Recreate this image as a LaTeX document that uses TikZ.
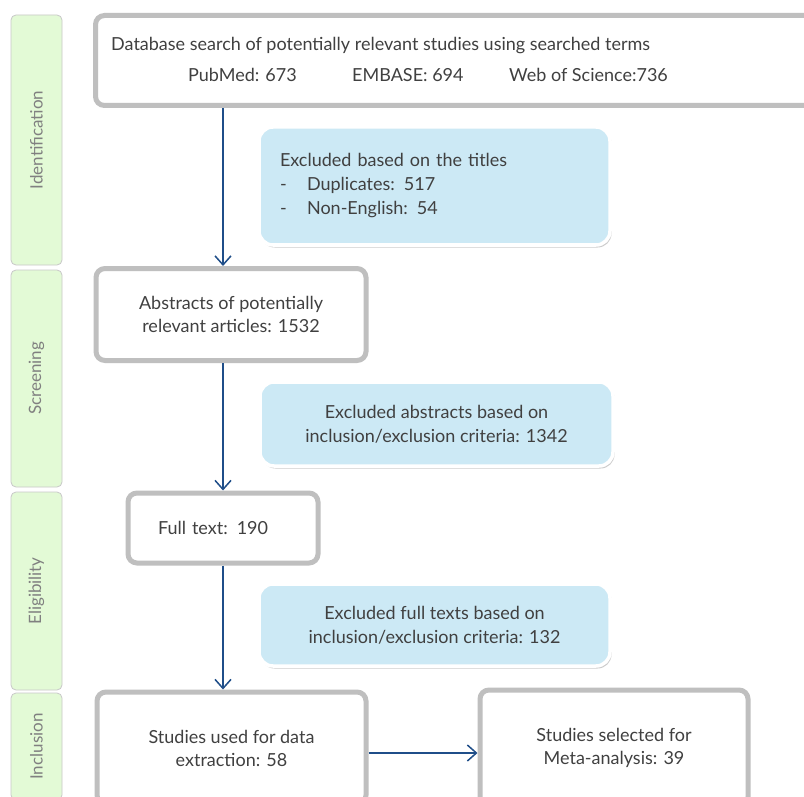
\documentclass[tikz,border=0pt]{standalone}
\usepackage{fontspec}
\setmainfont{Lato}
\usepackage{tikz}
\usetikzlibrary{arrows.meta}
\usetikzlibrary{shadows}
\definecolor{boxgray}{HTML}{BFBFBF}
\definecolor{exclblue}{HTML}{CCE9F5}
\definecolor{stagegreen}{HTML}{E3FAD6}
\definecolor{stageline}{HTML}{C8C8C8}
\definecolor{flowblue}{HTML}{1F4E89}
\definecolor{txtgray}{HTML}{404040}
\tikzset{
  mainbox/.style={draw=boxgray,line width=5pt,fill=white,rounded corners=9pt,inner sep=0pt,
    align=center,text=txtgray,font=\fontsize{18}{23}\selectfont},
  exclbox/.style={draw=white,line width=3.5pt,fill=exclblue,rounded corners=14pt,inner sep=0pt,
    align=center,text=txtgray,font=\fontsize{18}{24}\selectfont,
    drop shadow={shadow xshift=1.5pt,shadow yshift=-2.5pt,opacity=0.4,fill=black!50}},
  stagebox/.style={draw=stageline,line width=0.8pt,fill=stagegreen,rounded corners=5pt,inner sep=0pt,
    rotate=90,text=black!50,font=\fontsize{17}{20}\selectfont},
  flow/.style={draw=flowblue,line width=1.5pt,-{Straight Barb[length=9pt,width=16pt,line width=1.5pt]}},
  plain/.style={text=txtgray,font=\fontsize{18}{20}\selectfont,inner sep=0pt}
}
\begin{document}
\begin{tikzpicture}[x=1pt,y=-1pt]
  \clip (0,0) rectangle (804,797);
  \fill[white] (0,0) rectangle (804,797);

  % stages
  \node[stagebox,minimum width=250,minimum height=51] (ident) at (36.5,140) {Identification};
  \node[stagebox,minimum width=217,minimum height=51] (screen) at (36.5,378.5) {Screening};
  \node[stagebox,minimum width=198,minimum height=51] (elig) at (36.5,591) {Eligibility};
  \node[stagebox,minimum width=107,minimum height=51] (incl) at (36.5,746.5) {Inclusion};

  % database search
  \node[mainbox,minimum width=740,minimum height=90] (search) at (465.5,60.5) {};
  \node[plain,anchor=west] (searchtxt) at (111,46) {Database search of potentially relevant studies using searched terms};
  \node[plain,anchor=west] (pubmed) at (188,75) {PubMed: 673};
  \node[plain,anchor=west] (embase) at (352,75) {EMBASE: 694};
  \node[plain,anchor=west] (wos) at (509,75) {Web of Science:736};

  \node[exclbox,minimum width=351,minimum height=118,text width=309,align=left] (titles) at (434.5,186)
    {Excluded based on the titles\\
     \makebox[27pt][l]{-}Duplicates: 517\\
     \makebox[27pt][l]{-}Non-English: 54};

  \node[mainbox,minimum width=270,minimum height=92] (abstracts) at (231,314.5)
    {Abstracts of potentially\\relevant articles: 1532};

  \node[exclbox,minimum width=353,minimum height=84] (exabs) at (436.5,424)
    {Excluded abstracts based on\\inclusion/exclusion criteria: 1342};

  \node[mainbox,minimum width=190,minimum height=70,text width=130,align=left] (fulltext) at (223,528)
    {Full text: 190};

  \node[exclbox,minimum width=351,minimum height=82] (exfull) at (434.5,625)
    {Excluded full texts based on\\inclusion/exclusion criteria: 132};

  \node[mainbox,minimum width=269,minimum height=112] (extract) at (231.5,748)
    {Studies used for data\\extraction: 58};
  \node[mainbox,minimum width=268,minimum height=116] (meta) at (614,748)
    {Studies selected for\\Meta-analysis: 39};

  % arrows
  \draw[flow] (search.south -| fulltext) -- (abstracts.north -| fulltext);
  \draw[flow] (abstracts.south -| fulltext) -- (fulltext.north);
  \draw[flow] (fulltext.south) -- (extract.north -| fulltext);
  \draw[flow] ([yshift=-5pt]extract.east) -- ([yshift=-5pt]meta.west);
\end{tikzpicture}
\end{document}
